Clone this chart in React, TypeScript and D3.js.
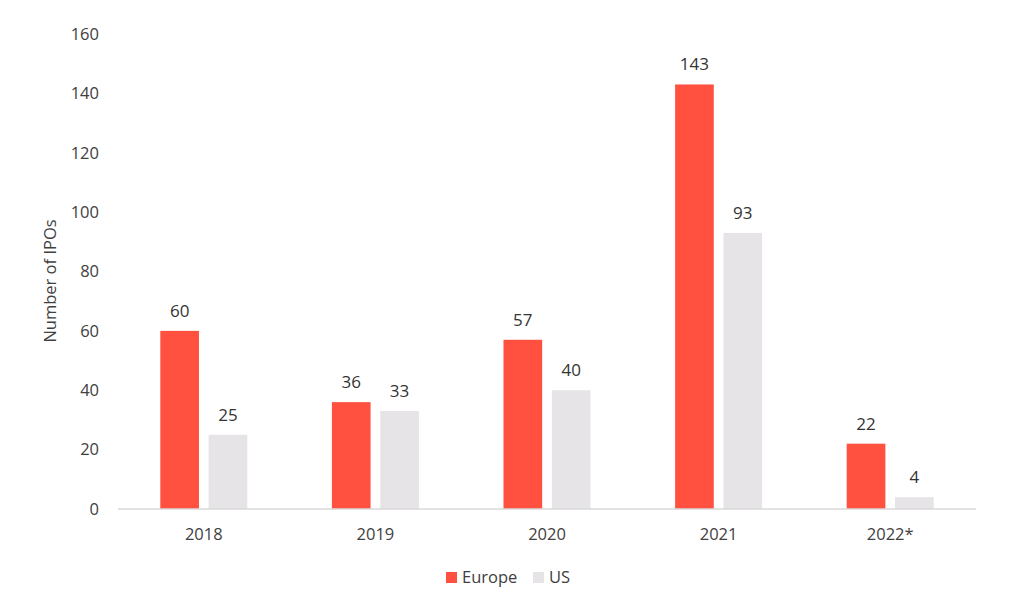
import React from "react";
import * as d3 from "d3";

const categories = ["2018", "2019", "2020", "2021", "2022*"];
const seriesNames = ["Europe", "US"];
const europe = [60, 36, 57, 143, 22];
const us = [25, 33, 40, 93, 4];
const yTicks = [0, 20, 40, 60, 80, 100, 120, 140, 160];
const colors = ["#FF5040", "#E6E4E7"];

export default function App() {
  const W = 1024, H = 602;
  const font = "'Open Sans', sans-serif";
  const textColor = "#404040";
  const x0 = d3.scaleBand<string>().domain(categories).range([118, 976]);
  const groupW = 87;
  const x1 = d3.scaleBand<string>().domain(seriesNames).range([0, groupW]).paddingInner(0.2);
  const y = d3.scaleLinear().domain([0, 160]).range([509, 34]);
  const values = [europe, us];

  return (
    <svg width={W} height={H} style={{ position: "absolute", left: 0, top: 0, background: "#fff" }} fontFamily={font}>
      {yTicks.map((t) => (
        <text key={t} x={99} y={y(t)} dy="0.35em" textAnchor="end" fontSize={16.5} fill={textColor}>{t}</text>
      ))}
      <text transform={`translate(56,281) rotate(-90)`} textAnchor="middle" fontSize={16.5} fill={textColor}>Number of IPOs</text>
      {categories.map((c, i) => {
        const gx = (x0(c) as number) + x0.bandwidth() / 2 - groupW / 2;
        return (
          <g key={c}>
            {seriesNames.map((s, j) => {
              const v = values[j][i];
              const bx = gx + (x1(s) as number);
              return (
                <g key={s}>
                  <rect x={bx} y={y(v)} width={x1.bandwidth()} height={y(0) - y(v)} fill={colors[j]} />
                  <text x={bx + x1.bandwidth() / 2} y={y(v) - 14} textAnchor="middle" fontSize={17} fill={"#333"}>{v}</text>
                </g>
              );
            })}
            <text x={(x0(c) as number) + x0.bandwidth() / 2} y={540} textAnchor="middle" fontSize={16.5} fill={textColor}>{c}</text>
          </g>
        );
      })}
      <line x1={118} x2={976} y1={y(0)} y2={y(0)} stroke="#D9D9D9" strokeWidth={1.5} />
      <g>
        <rect x={446} y={572} width={11} height={11} fill={colors[0]} />
        <text x={462} y={583} fontSize={16.5} fill={textColor}>Europe</text>
        <rect x={533} y={572} width={11} height={11} fill={colors[1]} />
        <text x={549} y={583} fontSize={16.5} fill={textColor}>US</text>
      </g>
    </svg>
  );
}
